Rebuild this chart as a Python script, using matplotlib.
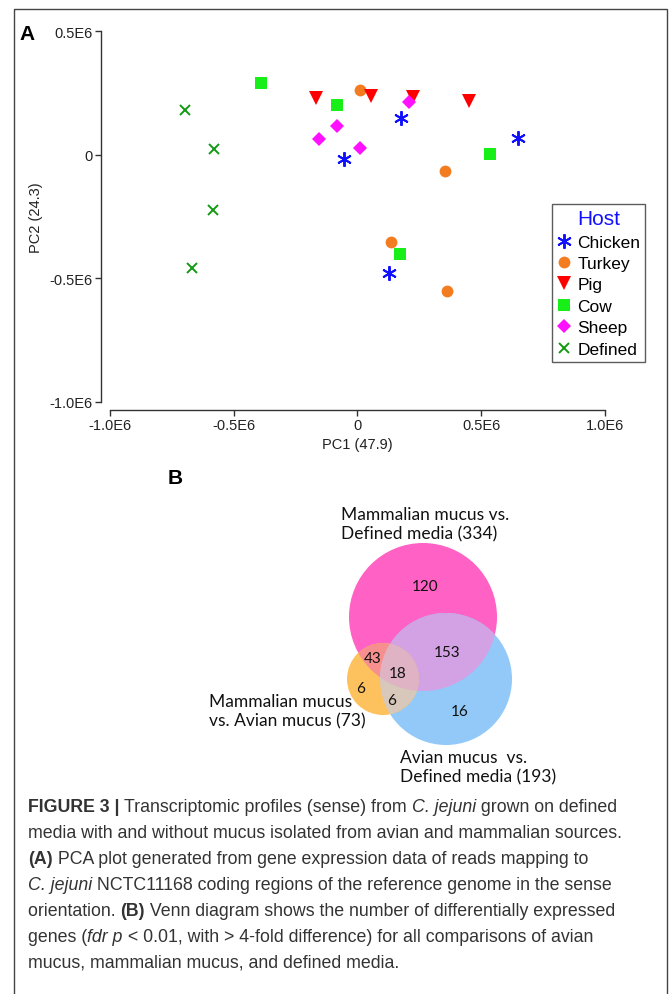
import numpy as np
import matplotlib
matplotlib.use('Agg')
import matplotlib.pyplot as plt
from matplotlib.patches import Circle, Polygon, Rectangle
from matplotlib.lines import Line2D

plt.rcParams['font.family'] = ['Liberation Sans', 'DejaVu Sans']

# ---- Panel A: PCA scores (units of 1E6) ----
hosts = ['Chicken', 'Turkey', 'Pig', 'Cow', 'Sheep', 'Defined']
pc1 = {
    'Chicken': [0.176, 0.647, -0.053, 0.126],
    'Turkey':  [0.009, 0.355, 0.134, 0.362],
    'Pig':     [-0.167, 0.055, 0.224, 0.452],
    'Cow':     [-0.388, -0.083, 0.536, 0.172],
    'Sheep':   [0.207, -0.083, -0.155, 0.012],
    'Defined': [-0.695, -0.581, -0.584, -0.669],
}
pc2 = {
    'Chicken': [0.148, 0.066, -0.018, -0.479],
    'Turkey':  [0.262, -0.066, -0.355, -0.551],
    'Pig':     [0.228, 0.240, 0.235, 0.219],
    'Cow':     [0.290, 0.201, 0.003, -0.401],
    'Sheep':   [0.215, 0.116, 0.063, 0.026],
    'Defined': [0.181, 0.022, -0.223, -0.460],
}
xticks = [-1.0, -0.5, 0.0, 0.5, 1.0]
xtick_labels = ['-1.0E6', '-0.5E6', '0', '0.5E6', '1.0E6']
yticks = [0.5, 0.0, -0.5, -1.0]
ytick_labels = ['0.5E6', '0', '-0.5E6', '-1.0E6']

# marker styles per host
styles = {
    'Chicken': dict(marker=(6, 2, 0), color='#1010ff', ms=10.5, mew=1.4),
    'Turkey':  dict(marker='o', color='#f47c20', ms=8.5, mew=0),
    'Pig':     dict(marker='v', color='#ff0000', ms=10.5, mew=0),
    'Cow':     dict(marker='s', color='#18ee18', ms=8.5, mew=0),
    'Sheep':   dict(marker='D', color='#ff10ff', ms=7.5, mew=0),
    'Defined': dict(marker='x', color='#129a12', ms=7.5, mew=1.4),
}

# ---- Panel B: Venn counts ----
venn_sets = ['Mammalian mucus vs.\nDefined media (334)',
             'Avian mucus  vs.\nDefined media (193)',
             'Mammalian mucus\nvs. Avian mucus (73)']
venn_counts = {'M': 120, 'MA': 153, 'MO': 43, 'MAO': 18, 'O': 6, 'AO': 6, 'A': 16}

# caption lines as (text, style) segments: r=regular, b=bold, i=italic
caption = [
    [('FIGURE 3 | ', 'b'), ('Transcriptomic profiles (sense) from ', 'r'), ('C. jejuni', 'i'),
     (' grown on defined', 'r')],
    [('media with and without mucus isolated from avian and mammalian sources.', 'r')],
    [('(A)', 'b'), (' PCA plot generated from gene expression data of reads mapping to', 'r')],
    [('C. jejuni', 'i'), (' NCTC11168 coding regions of the reference genome in the sense', 'r')],
    [('orientation. ', 'r'), ('(B)', 'b'),
     (' Venn diagram shows the number of differentially expressed', 'r')],
    [('genes (', 'r'), ('fdr p', 'i'), (' < 0.01, with > 4-fold difference) for all comparisons of avian', 'r')],
    [('mucus, mammalian mucus, and defined media.', 'r')],
]

W, H = 669, 995
fig = plt.figure(figsize=(W / 100, H / 100), dpi=100)
renderer = fig.canvas.get_renderer()


def fx(px):
    return px / W


def fy(py):
    return 1 - py / H


# overlay in pixel coordinates for frame, venn and caption
ov = fig.add_axes([0, 0, 1, 1])
ov.set_xlim(0, W)
ov.set_ylim(H, 0)
ov.axis('off')
ov.add_patch(Rectangle((14, 10), 653, 1000, fill=False, ec='#444444', lw=1.0))

# ---- PCA axes ----
ax = fig.add_axes([fx(110), fy(402.7), fx(605) - fx(110), fy(32.3) - fy(402.7)])
for h in hosts:
    st = styles[h]
    ax.plot(np.array(pc1[h]) * 1e6, np.array(pc2[h]) * 1e6, ls='none',
            marker=st['marker'], color=st['color'], ms=st['ms'], mew=st['mew'],
            mec=st['color'], label=h)
ax.set_xlim(-1.0e6, 1.0e6)
ax.set_ylim(-1.0e6, 0.5e6)
ax.set_xticks(np.array(xticks) * 1e6)
ax.set_xticklabels(xtick_labels)
ax.set_yticks(np.array(yticks) * 1e6)
ax.set_yticklabels(ytick_labels)
ax.spines['top'].set_visible(False)
ax.spines['right'].set_visible(False)
ax.spines['left'].set_position(('outward', 6.5))
ax.spines['bottom'].set_position(('outward', 6))
ax.spines['left'].set_bounds(-1.0e6, 0.5e6)
ax.spines['bottom'].set_bounds(-1.0e6, 1.0e6)
for s in ['left', 'bottom']:
    ax.spines[s].set_color('#333333')
    ax.spines[s].set_linewidth(1.0)
ax.tick_params(length=4, width=1.0, color='#333333', labelsize=10.5, labelcolor='#222222', pad=2)
ax.set_xlabel('PC1 (47.9)', fontsize=10.5, color='#222222', labelpad=3)
ax.set_ylabel('PC2 (24.3)', fontsize=10.5, color='#222222', labelpad=5)
ax.patch.set_alpha(0)

handles = [Line2D([], [], ls='none', marker=styles[h]['marker'], color=styles[h]['color'],
                  mec=styles[h]['color'], ms=styles[h]['ms'], mew=styles[h]['mew'])
           for h in hosts]
leg = fig.legend(handles, hosts, loc='upper left', bbox_to_anchor=(fx(552), fy(205)),
                 bbox_transform=fig.transFigure, borderaxespad=0, title='Host',
                 fontsize=12.5, title_fontsize=15, frameon=True, fancybox=False,
                 edgecolor='#333333', handlelength=0.8, handletextpad=0.35,
                 labelspacing=0.36, borderpad=0.3)
leg.get_title().set_color('#1010ff')
leg.get_frame().set_linewidth(1.0)

fig.text(fx(27), fy(34), 'A', fontsize=15, fontweight='bold', ha='center', va='center')

# ---- Panel B: Venn ----
fig.text(fx(175), fy(478), 'B', fontsize=15, fontweight='bold', ha='center', va='center')

cP, rP = (423, 618), 74
cA, rA = (446, 680), 66
cO, rO = (383, 680), 36


def circ(c, r, color, zorder=1):
    return Circle(c, r, fc=color, ec='none', transform=ov.transData, zorder=zorder)


ov.add_patch(circ(cP, rP, '#ff61c5'))
ov.add_patch(circ(cA, rA, '#93c9f9'))
ov.add_patch(circ(cO, rO, '#fdc25e'))

pa = ov.add_patch(circ(cP, rP, '#d2a2e4', 2))
pa.set_clip_path(circ(cA, rA, 'none'))
po = ov.add_patch(circ(cP, rP, '#f88f8f', 2))
po.set_clip_path(circ(cO, rO, 'none'))
ao = ov.add_patch(circ(cA, rA, '#d7c8bb', 2))
ao.set_clip_path(circ(cO, rO, 'none'))

# intersection of P and A as polygon, clipped to O
t = np.linspace(0, 2 * np.pi, 720)
ptsP = np.c_[cP[0] + rP * np.cos(t), cP[1] + rP * np.sin(t)]
ptsA = np.c_[cA[0] + rA * np.cos(t), cA[1] + rA * np.sin(t)]
inA = np.hypot(ptsP[:, 0] - cA[0], ptsP[:, 1] - cA[1]) <= rA
inP = np.hypot(ptsA[:, 0] - cP[0], ptsA[:, 1] - cP[1]) <= rP
pts = np.vstack([ptsP[inA], ptsA[inP]])
ctr = pts.mean(axis=0)
pts = pts[np.argsort(np.arctan2(pts[:, 1] - ctr[1], pts[:, 0] - ctr[0]))]
tri = ov.add_patch(Polygon(pts, closed=True, fc='#dfb2c4', ec='none', zorder=3))
tri.set_clip_path(circ(cO, rO, 'none'))

vfont = dict(family=['Lato', 'DejaVu Sans'], color='#111111')
count_pos = {'M': (425, 587), 'MA': (447, 653), 'MO': (373, 659), 'MAO': (398, 674),
             'O': (361, 689), 'AO': (392, 701), 'A': (460, 712)}
for k, v in venn_counts.items():
    ov.text(*count_pos[k], str(v), fontsize=11, ha='center', va='center', zorder=5, **vfont)

label_pos = [(341, 525), (400, 768), (209, 712)]
for lab, (x, y) in zip(venn_sets, label_pos):
    ov.text(x, y, lab, fontsize=12.5, ha='left', va='center', linespacing=1.25, zorder=5, **vfont)

# ---- caption ----
seg_style = {'r': dict(), 'b': dict(fontweight='bold'), 'i': dict(fontstyle='italic')}
cap_size = 12.8


def seg_width(s, kw):
    # width including spaces: measure with a guard glyph
    a = ov.text(0, 0, s + '|', fontsize=cap_size, **kw)
    b = ov.text(0, 0, '|', fontsize=cap_size, **kw)
    w = a.get_window_extent(renderer).width - b.get_window_extent(renderer).width
    a.remove()
    b.remove()
    return w


for i, line in enumerate(caption):
    x = 28
    y = 808 + i * 25.8
    for s, k in line:
        kw = seg_style[k]
        ov.text(x, y, s, fontsize=cap_size, color='#333333', ha='left', va='center', **kw)
        x += seg_width(s, kw)

plt.savefig('out.png', dpi=100)
